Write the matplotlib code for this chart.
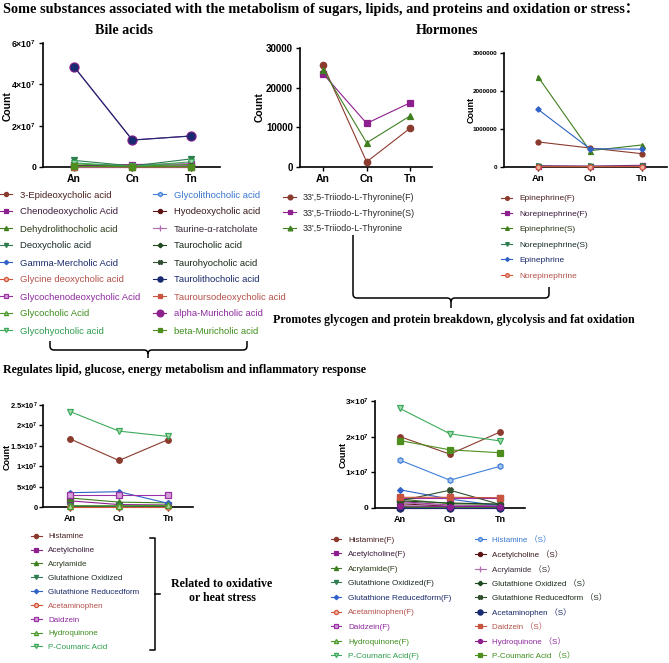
import matplotlib
matplotlib.use('Agg')
import matplotlib.pyplot as plt
from matplotlib.path import Path
from matplotlib.patches import PathPatch
import matplotlib.colors as mcolors

plt.rcParams['font.family'] = ['Liberation Sans', 'Noto Sans CJK SC', 'DejaVu Sans']
plt.rcParams['mathtext.fontset'] = 'custom'
plt.rcParams['mathtext.rm'] = 'Liberation Sans:bold'
plt.rcParams['mathtext.it'] = 'Liberation Sans:bold'
plt.rcParams['mathtext.bf'] = 'Liberation Sans:bold'

W, H = 669, 663
fig = plt.figure(figsize=(W / 100, H / 100), dpi=100)

# ---------------- data ----------------
groups = ['An', 'Cn', 'Tn']

bile_names = ['3-Epideoxycholic acid', 'Chenodeoxycholic Acid', 'Dehydrolithocholic acid',
              'Deoxycholic acid', 'Gamma-Mercholic Acid', 'Glycine deoxycholic acid',
              'Glycochenodeoxycholic Acid', 'Glycocholic Acid', 'Glycohyocholic acid',
              'Glycolithocholic acid', 'Hyodeoxycholic acid', 'Taurine-α-ratcholate',
              'Taurocholic acid', 'Taurohyocholic acid', 'Taurolithocholic acid',
              'Tauroursodeoxycholic acid', 'alpha-Muricholic acid', 'beta-Muricholic acid']
bile_values = [
    [2e5, 1e5, 1.5e5],
    [6e5, 1.2e6, 1.5e6],
    [1e5, 5e4, 8e4],
    [3.2e6, 5e5, 3.9e6],
    [3e5, 2e5, 2e5],
    [1e5, 1e5, 1e5],
    [8e5, 3e5, 6e5],
    [1.5e6, 4e5, 1.2e6],
    [2e6, 3e5, 2.5e6],
    [2e5, 1e5, 1e5],
    [3e5, 2e5, 2e5],
    [1e5, 1e5, 1e5],
    [5e5, 2e5, 3e5],
    [2e5, 1e5, 1e5],
    [4.85e7, 1.3e7, 1.5e7],
    [1e5, 5e4, 5e4],
    [4.86e7, 1.31e7, 1.5e7],
    [3e5, 2e5, 2e5],
]

t3_names = ["33',5-Triiodo-L-Thyronine(F)", "33',5-Triiodo-L-Thyronine(S)", "33',5-Triiodo-L-Thyronine"]
t3_values = [
    [25700, 1300, 9800],
    [23500, 11000, 16200],
    [24500, 6100, 12900],
]

epi_names = ['Epinephrine(F)', 'Norepinephrine(F)', 'Epinephrine(S)',
             'Norepinephrine(S)', 'Epinephrine', 'Norepinephrine']
epi_values = [
    [6.6e5, 5.0e5, 3.5e5],
    [3.5e4, 2.5e4, 4.5e4],
    [2.38e6, 4.3e5, 5.8e5],
    [2.0e4, 1.5e4, 2.0e4],
    [1.52e6, 4.8e5, 4.7e5],
    [1.0e4, 8e3, 1.2e4],
]

ox_names = ['Histamine', 'Acetylcholine', 'Acrylamide', 'Glutathione Oxidized',
            'Glutathione Reducedform', 'Acetaminophen', 'Daidzein', 'Hydroquinone',
            'P-Coumaric Acid']
ox_values = [
    [1.67e7, 1.14e7, 1.65e7],
    [1.5e6, 6e5, 5e5],
    [2.2e6, 1.2e6, 1.0e6],
    [3e5, 2e5, 2e5],
    [3.5e6, 3.75e6, 9e5],
    [1e5, 1e5, 1e5],
    [2.9e6, 2.9e6, 2.9e6],
    [3e5, 3e5, 4e5],
    [2.34e7, 1.86e7, 1.73e7],
]

fs_names = ['Histamine(F)', 'Acetylcholine(F)', 'Acrylamide(F)', 'Glutathione Oxidized(F)',
            'Glutathione Reducedform(F)', 'Acetaminophen(F)', 'Daidzein(F)', 'Hydroquinone(F)',
            'P-Coumaric Acid(F)',
            'Histamine （S）', 'Acetylcholine （S）', 'Acrylamide （S）', 'Glutathione Oxidized （S）',
            'Glutathione Reducedform （S）', 'Acetaminophen （S）', 'Daidzein （S）',
            'Hydroquinone （S）', 'P-Coumaric Acid （S）']
fs_values = [
    [2.0e7, 1.51e7, 2.13e7],
    [1.8e6, 8e5, 6e5],
    [2.5e6, 1.2e6, 1.0e6],
    [3e5, 2e5, 2e5],
    [5.1e6, 2.5e6, 6e5],
    [1e5, 1e5, 1e5],
    [2.9e6, 2.9e6, 2.9e6],
    [4e5, 3e5, 3e5],
    [2.79e7, 2.08e7, 1.88e7],
    [1.34e7, 7.8e6, 1.17e7],
    [1.2e6, 5e5, 4e5],
    [1.5e6, 7e5, 5e5],
    [2.0e6, 1.4e6, 1.1e6],
    [2.0e6, 5.0e6, 1.0e6],
    [1e5, 1e5, 1e5],
    [3.0e6, 3.0e6, 2.9e6],
    [6e5, 4e5, 4e5],
    [1.89e7, 1.63e7, 1.55e7],
]

bile_ticks = [0, 2e7, 4e7, 6e7]
bile_ticklabels = ['0', '2×10$^{7}$', '4×10$^{7}$', '6×10$^{7}$']
t3_ticks = [0, 10000, 20000, 30000]
t3_ticklabels = ['0', '10000', '20000', '30000']
epi_ticks = [0, 1e6, 2e6, 3e6]
epi_ticklabels = ['0', '1000000', '2000000', '3000000']
ox_ticks = [0, 5e6, 1e7, 1.5e7, 2e7, 2.5e7]
ox_ticklabels = ['0', '5×10$^{6}$', '1×10$^{7}$', '1.5×10$^{7}$', '2×10$^{7}$', '2.5×10$^{7}$']
fs_ticks = [0, 1e7, 2e7, 3e7]
fs_ticklabels = ['0', '1×10$^{7}$', '2×10$^{7}$', '3×10$^{7}$']

# ---------------- styles ----------------
PAL = ['#8B3A2E', '#8E1F8E', '#3F7F1F', '#2E7D4F', '#2F62C9', '#D4553A', '#9B2FA6', '#4A9A2A',
       '#3DAA5A', '#3F7FD8', '#5C1414', '#B070B0', '#1F4A1F', '#2F4F2F', '#1A2A70', '#C8553F',
       '#8E1F8E', '#4E8E1E']
MARK = ['o', 's', '^', 'v', 'D', 'o', 's', '^', 'v', 'h', 'o', '+', 'P', 'X', 'o', 's', 'o', 's']
OPEN = [False] * 5 + [True] * 5 + [False] * 8
TXT = ['#4A2020', '#3A1A3A', '#2A3A1A', '#1A2A2A', '#1A2A6A', '#B5524A', '#8E2A9E', '#3E8E1E',
       '#2E9E4E', '#3A78D0', '#3A1A1A', '#3A2A3A', '#1A2A1A', '#1A2A1A', '#1A2A6A', '#B5524A',
       '#8E2A9E', '#3E8E1E']
MSIZE = [4, 4, 4, 4, 3, 4, 4, 4, 4, 4, 4, 5, 4, 4, 5, 4, 4, 4]


def lighten(c, a=0.55):
    r, g, b = mcolors.to_rgb(c)
    return (r + (1 - r) * a, g + (1 - g) * a, b + (1 - b) * a)


def axbox(x0, y0, x1, y1):
    return [x0 / W, 1 - y1 / H, (x1 - x0) / W, (y1 - y0) / H]


def plot_group(ax, values, names, msscale=1.0, big=None, top=()):
    lines = []
    for i, (vals, nm) in enumerate(zip(values, names)):
        c = PAL[i]
        ms = MSIZE[i] * msscale
        if big is not None and i in big:
            ms = big[i]
        mfc = lighten(c) if OPEN[i] else c
        ln, = ax.plot(groups, vals, color=c, lw=0.8, marker=MARK[i], ms=ms, mfc=mfc, mec=c,
                      mew=0.9, clip_on=False, zorder=4 if i in top else 3, label=nm)
        lines.append(ln)
    return lines


def style_ax(ax, xlim, ylim, yticks, ylabels, yfs, xfs, countx, county, cfs, ypad=2):
    for s in ['top', 'right']:
        ax.spines[s].set_visible(False)
    for s in ['left', 'bottom']:
        ax.spines[s].set_linewidth(1.2)
    ax.set_xlim(*xlim)
    ax.set_ylim(*ylim)
    ax.set_yticks(yticks)
    ax.set_yticklabels(ylabels, fontsize=yfs, fontweight='bold')
    for lab in ax.get_xticklabels():
        lab.set_fontsize(xfs)
        lab.set_fontweight('bold')
    ax.tick_params(direction='out', length=3, width=1, pad=2)
    ax.tick_params(axis='y', pad=ypad)
    ax.patch.set_alpha(0)
    ax.set_ylabel('Count', fontsize=cfs, fontweight='bold')
    pos = ax.get_position()
    x0 = pos.x0 * W
    wpx = pos.width * W
    y1 = (1 - pos.y1) * H
    hpx = pos.height * H
    ax.yaxis.set_label_coords((countx - x0) / wpx, 1 - (county - y1) / hpx)


# ---------------- charts ----------------
ax1 = fig.add_axes(axbox(43, 43, 220, 167))
bile_lines = plot_group(ax1, bile_values, bile_names, big={16: 6.5, 14: 5}, top=(14,))
style_ax(ax1, (-0.53, 2.5), (0, 6e7), bile_ticks, bile_ticklabels, 6.3, 7.5, 13, 106, 7.5)

ax2 = fig.add_axes(axbox(300, 48, 432, 167))
t3_lines = plot_group(ax2, t3_values, t3_names, msscale=1.15)
style_ax(ax2, (-0.53, 2.5), (0, 30000), t3_ticks, t3_ticklabels, 7, 7.5, 265, 107, 7.5)

ax3 = fig.add_axes(axbox(504, 53, 667, 167))
epi_lines = plot_group(ax3, epi_values, epi_names, msscale=0.9)
style_ax(ax3, (-0.65, 2.48), (0, 3e6), epi_ticks, epi_ticklabels, 4.6, 6.8, 476, 110, 6.5)

ax4 = fig.add_axes(axbox(43, 405, 193, 507))
ox_lines = plot_group(ax4, ox_values, ox_names)
style_ax(ax4, (-0.55, 2.51), (0, 2.5e7), ox_ticks, ox_ticklabels, 5.4, 6.5, 12, 457, 6.5, ypad=1)

ax5 = fig.add_axes(axbox(375, 401, 525, 508))
fs_lines = plot_group(ax5, fs_values, fs_names)
style_ax(ax5, (-0.5, 2.5), (0, 3e7), fs_ticks, fs_ticklabels, 6.0, 6.5, 348, 455, 6.5, ypad=1.5)

# ---------------- overlay: titles & brackets ----------------
ov = fig.add_axes([0, 0, 1, 1], zorder=-1)
ov.set_xlim(0, W)
ov.set_ylim(H, 0)
ov.axis('off')

SERIF = ['Liberation Serif', 'Noto Sans CJK SC']
ov.text(3, 10, 'Some substances associated with the metabolism of sugars, lipids, and proteins and oxidation or stress：',
        ha='left', va='center', fontsize=10.25, fontweight='bold', family=SERIF)
ov.text(124, 30, 'Bile acids', ha='center', va='center', fontsize=10.2, fontweight='bold', family=SERIF)
ov.text(447, 31, 'Hormones', ha='center', va='center', fontsize=10.2, fontweight='bold', family=SERIF)
ov.text(454, 320, 'Promotes glycogen and protein breakdown, glycolysis and fat oxidation',
        ha='center', va='center', fontsize=8.6, fontweight='bold', family=SERIF)
ov.text(3, 370, 'Regulates lipid, glucose, energy metabolism and inflammatory response',
        ha='left', va='center', fontsize=8.55, fontweight='bold', family=SERIF)
ov.text(222, 591, 'Related to oxidative\nor heat stress', ha='center', va='center', fontsize=8.6,
        fontweight='bold', family=SERIF, linespacing=1.25)


def hbrace(x0, x1, ytl, ytr, ymid, xc, ytip, r=4):
    verts = [(x0, ytl), (x0, ymid - r), (x0, ymid), (x0 + r, ymid), (xc - r, ymid), (xc, ymid),
             (xc, ymid + r), (xc, ytip)]
    codes = [Path.MOVETO, Path.LINETO, Path.CURVE3, Path.CURVE3, Path.LINETO, Path.CURVE3,
             Path.CURVE3, Path.LINETO]
    verts2 = [(x1, ytr), (x1, ymid - r), (x1, ymid), (x1 - r, ymid), (xc + r, ymid), (xc, ymid),
              (xc, ymid + r)]
    codes2 = [Path.MOVETO, Path.LINETO, Path.CURVE3, Path.CURVE3, Path.LINETO, Path.CURVE3,
              Path.CURVE3]
    for v, c in ((verts, codes), (verts2, codes2)):
        ov.add_patch(PathPatch(Path(v, c), fill=False, lw=1.1, ec='black'))


hbrace(50, 247, 341, 341, 350, 148, 358)
hbrace(353, 549, 235, 287, 298, 451, 308)

# right square bracket for oxidative legend
ov.plot([150, 155, 155, 150], [538, 538, 650, 650], color='black', lw=1.1)
ov.plot([155, 160], [594, 594], color='black', lw=1.1)


# ---------------- legends ----------------
def place_legend(handles, tcolors, x_text, y_first, pitch, fs=6.3, hl=1.4, htp=0.8, mscale=0.75):
    labels = [h.get_label() for h in handles]
    fspx = fs * 100 / 72.0

    def make(ls):
        leg = fig.legend(handles, labels, loc='upper left', bbox_to_anchor=(0.5, 0.5),
                         bbox_transform=fig.transFigure, frameon=False, fontsize=fs,
                         labelspacing=ls, handlelength=hl, handletextpad=htp, borderpad=0,
                         borderaxespad=0, markerscale=mscale)
        for t, c in zip(leg.get_texts(), tcolors):
            t.set_color(c)
        return leg

    ls = 0.5
    leg = make(ls)
    fig.canvas.draw()
    rend = fig.canvas.get_renderer()
    ex = [t.get_window_extent(rend) for t in leg.get_texts()]
    if len(ex) > 1:
        p0 = (ex[0].y0 - ex[-1].y0) / (len(ex) - 1)
        ls = ls + (pitch - p0) / fspx
        leg.remove()
        leg = make(ls)
        fig.canvas.draw()
        ex = [t.get_window_extent(rend) for t in leg.get_texts()]
    e0 = ex[0]
    dx = x_text - e0.x0
    dy = (H - y_first) - (e0.y0 + e0.y1) / 2.0
    leg.set_bbox_to_anchor((0.5 + dx / W, 0.5 + dy / H), transform=fig.transFigure)
    return leg


place_legend(bile_lines[:9], TXT[:9], 20, 195, 17, fs=6.8)
place_legend(bile_lines[9:], TXT[9:], 174, 195, 17, fs=6.8)
place_legend(t3_lines, ['#2A2A2A'] * 3, 303, 198, 15.1, fs=6.4)
place_legend(epi_lines, TXT[:6], 519, 199, 15.4, fs=6.0)
place_legend(ox_lines, TXT[:9], 48, 537, 13.85, fs=5.8, hl=1.3)
place_legend(fs_lines[:9], TXT[:9], 348, 540, 14.6, fs=5.9, hl=1.3)
place_legend(fs_lines[9:], TXT[9:], 492, 540, 14.5, fs=5.8, hl=1.3)

fig.savefig('out.png', dpi=100)
